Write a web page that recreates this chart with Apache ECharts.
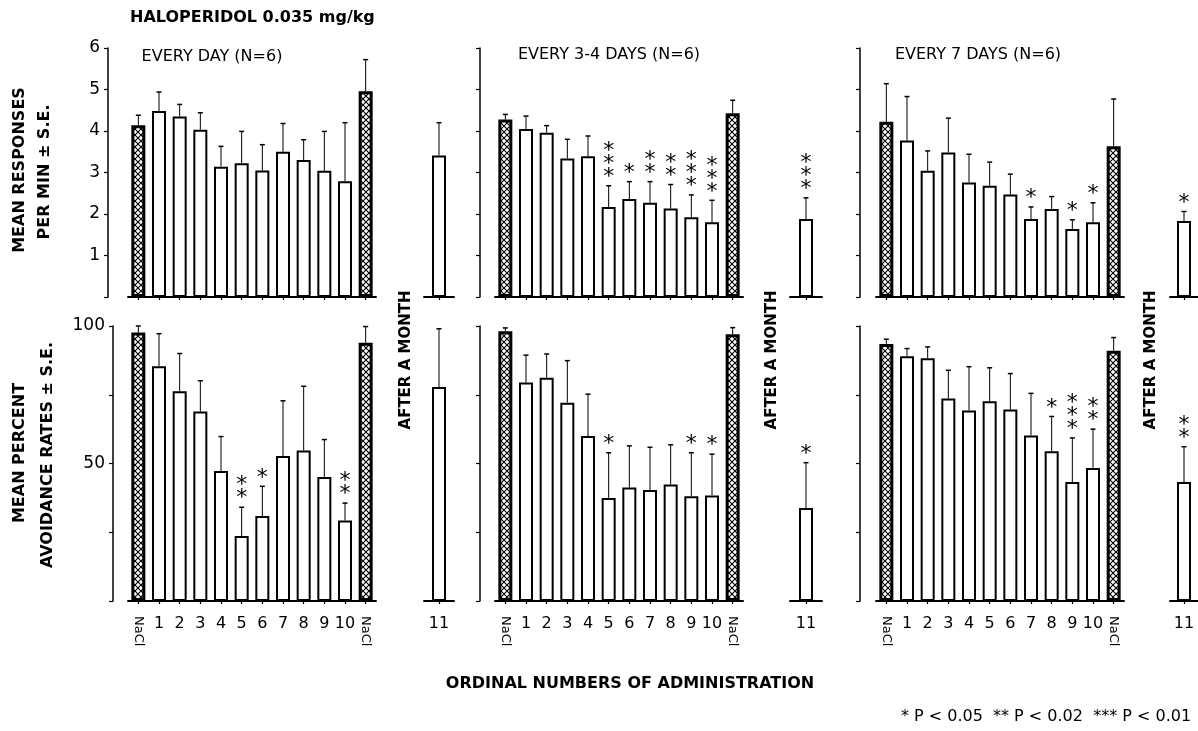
<!DOCTYPE html>
<html><head><meta charset="utf-8">
<script src="https://cdn.jsdelivr.net/npm/echarts@6/dist/echarts.min.js"></script>
<style>html,body{margin:0;padding:0;background:#fff}#c{width:1198px;height:731px}</style>
</head><body><div id="c"></div>
<script>
// ---------- DATA ----------
const categories = ['NaCl','1','2','3','4','5','6','7','8','9','10','NaCl'];
const monthCategories = ['11'];
const respTickLabels = ['1','2','3','4','5','6'];
const avoidTickLabels = ['50','100'];

// Mean responses per min (top row)
const respDaily      = [4.14,4.48,4.35,4.03,3.14,3.22,3.05,3.50,3.30,3.04,2.79,4.96];
const respDailySE    = [0.24,0.46,0.29,0.41,0.49,0.77,0.62,0.68,0.49,0.95,1.41,0.76];
const respDailyStars = [0,0,0,0,0,0,0,0,0,0,0,0];
const respDailyMonth = [3.41], respDailyMonthSE = [0.79], respDailyMonthStars = [0];

const resp34      = [4.28,4.05,3.96,3.34,3.39,2.17,2.36,2.27,2.13,1.92,1.80,4.43];
const resp34SE    = [0.12,0.31,0.17,0.46,0.49,0.51,0.42,0.51,0.58,0.54,0.53,0.31];
const resp34Stars = [0,0,0,0,0,3,1,2,2,3,3,0];
const resp34Month = [1.88], resp34MonthSE = [0.51], resp34MonthStars = [3];

const resp7      = [4.22,3.77,3.04,3.48,2.76,2.68,2.47,1.88,2.12,1.64,1.80,3.63];
const resp7SE    = [0.92,1.06,0.48,0.83,0.68,0.57,0.49,0.29,0.30,0.22,0.47,1.14];
const resp7Stars = [0,0,0,0,0,0,0,1,0,1,1,0];
const resp7Month = [1.83], resp7MonthSE = [0.23], resp7MonthStars = [1];

// Mean percent avoidance rates (bottom row)
const avoidDaily      = [97.6,85.4,76.3,68.9,47.3,23.6,30.9,52.7,54.7,45.1,29.3,93.9];
const avoidDailySE    = [2.4,11.8,13.7,11.2,12.5,10.5,10.8,20.1,23.4,13.6,6.3,5.9];
const avoidDailyStars = [0,0,0,0,0,2,1,0,0,0,2,0];
const avoidDailyMonth = [77.8], avoidDailyMonthSE = [21.2], avoidDailyMonthStars = [0];

const avoid34      = [98.1,79.5,81.2,72.1,60.0,37.5,41.3,40.4,42.4,38.1,38.4,97.0];
const avoid34SE    = [1.2,9.9,8.6,15.3,15.2,16.4,15.1,15.5,14.4,15.8,15.0,2.4];
const avoid34Stars = [0,0,0,0,0,1,0,0,0,1,1,0];
const avoid34Month = [33.8], avoid34MonthSE = [16.5], avoid34MonthStars = [1];

const avoid7      = [93.5,89.0,88.3,73.6,69.3,72.6,69.6,60.2,54.5,43.3,48.4,91.0];
const avoid7SE    = [1.7,2.8,4.1,10.3,15.9,12.2,13.1,15.3,12.6,16.0,14.1,4.8];
const avoid7Stars = [0,0,0,0,0,0,0,0,1,3,2,0];
const avoid7Month = [43.3], avoid7MonthSE = [12.8], avoid7MonthStars = [2];

// ---------- LAYOUT ----------
const FONT = 'DejaVu Sans';
const mainLeft = [128, 495, 876], mainWidth = 248;
const monthLeft = [424, 790, 1170], monthWidth = [30, 32, 28];
const rowTop = [48, 326], rowHeight = [249, 275];
const yOffset = [[20, 15, 16], [15, 15, 16]];

const panels = [
  {row:0,col:0,mean:respDaily,se:respDailySE,stars:respDailyStars,mMean:respDailyMonth,mSe:respDailyMonthSE,mStars:respDailyMonthStars},
  {row:0,col:1,mean:resp34,se:resp34SE,stars:resp34Stars,mMean:resp34Month,mSe:resp34MonthSE,mStars:resp34MonthStars},
  {row:0,col:2,mean:resp7,se:resp7SE,stars:resp7Stars,mMean:resp7Month,mSe:resp7MonthSE,mStars:resp7MonthStars},
  {row:1,col:0,mean:avoidDaily,se:avoidDailySE,stars:avoidDailyStars,mMean:avoidDailyMonth,mSe:avoidDailyMonthSE,mStars:avoidDailyMonthStars},
  {row:1,col:1,mean:avoid34,se:avoid34SE,stars:avoid34Stars,mMean:avoid34Month,mSe:avoid34MonthSE,mStars:avoid34MonthStars},
  {row:1,col:2,mean:avoid7,se:avoid7SE,stars:avoid7Stars,mMean:avoid7Month,mSe:avoid7MonthSE,mStars:avoid7MonthStars}
];

function hatchCanvas() {
  const s = 6;
  const c = document.createElement('canvas'); c.width = s; c.height = s;
  const g = c.getContext('2d');
  g.fillStyle = '#fff'; g.fillRect(0, 0, s, s);
  g.strokeStyle = '#000'; g.lineWidth = 1.1;
  g.beginPath();
  g.moveTo(-1, -1); g.lineTo(s + 1, s + 1);
  g.moveTo(s + 1, -1); g.lineTo(-1, s + 1);
  g.stroke();
  return c;
}
const hatch = { image: hatchCanvas(), repeat: 'repeat' };

function errRender(params, api) {
  const i = api.value(0), m = api.value(1), e = api.value(2);
  const b = api.coord([i, m]), t = api.coord([i, m + e]);
  return { type: 'group', children: [
    { type: 'line', shape: { x1: b[0], y1: b[1], x2: t[0], y2: t[1] }, style: { stroke: '#000', lineWidth: 1 } },
    { type: 'line', shape: { x1: t[0] - 2.5, y1: t[1], x2: t[0] + 2.5, y2: t[1] }, style: { stroke: '#000', lineWidth: 1.5 } }
  ]};
}
function starRender(params, api) {
  const n = api.value(3);
  if (!n) return null;
  const i = api.value(0), m = api.value(1), e = api.value(2);
  const t = api.coord([i, m + e]);
  return { type: 'text', x: t[0], y: t[1] - 2, style: {
    text: new Array(n).fill('*').join('\n'), font: '22px ' + FONT, lineHeight: 13,
    align: 'center', verticalAlign: 'bottom', fill: '#000' } };
}

const grid = [], xAxis = [], yAxis = [], series = [];
panels.forEach(p => {
  const isTop = p.row === 0;
  const ymax = isTop ? 6 : 100, yint = isTop ? 1 : 25;
  const ticks = isTop ? respTickLabels : avoidTickLabels;
  // main grid
  const gi = grid.length;
  grid.push({ left: mainLeft[p.col], width: mainWidth, top: rowTop[p.row], height: rowHeight[p.row] });
  const xi = xAxis.length;
  xAxis.push({ type: 'category', gridIndex: gi, data: categories, position: 'bottom',
    axisLine: { lineStyle: { color: '#000', width: 2 } },
    axisTick: { show: true, alignWithLabel: true, interval: 0, length: 3, lineStyle: { color: '#000', width: 1.2 } },
    axisLabel: { show: !isTop, interval: 0, margin: 15, color: '#000', fontFamily: FONT, fontSize: 16,
      formatter: v => v === 'NaCl' ? '' : v } });
  xAxis.push({ type: 'category', gridIndex: gi, data: categories, position: 'bottom',
    axisLine: { show: false }, axisTick: { show: false },
    axisLabel: { show: !isTop, interval: 0, rotate: -90, margin: 15, color: '#000', fontFamily: FONT, fontSize: 13,
      formatter: v => v === 'NaCl' ? v : '' } });
  const yi = yAxis.length;
  yAxis.push({ type: 'value', gridIndex: gi, min: 0, max: ymax, interval: yint, offset: yOffset[p.row][p.col],
    splitLine: { show: false },
    axisLine: { show: true, lineStyle: { color: '#000', width: 1.5 } },
    axisTick: { show: true, length: 4, lineStyle: { color: '#000', width: 1.2 } },
    axisLabel: { show: p.col === 0, color: '#000', fontFamily: FONT, fontSize: 17, margin: 8,
      formatter: v => ticks.includes(String(v)) ? String(v) : '' } });
  series.push({ type: 'bar', xAxisIndex: xi, yAxisIndex: yi, barWidth: 14, silent: true,
    data: p.mean.map((v, k) => categories[k] === 'NaCl'
      ? { value: v, itemStyle: { color: hatch, borderColor: '#000', borderWidth: 3 } }
      : { value: v }),
    itemStyle: { color: '#fff', borderColor: '#000', borderWidth: 2 } });
  const ed = p.mean.map((v, k) => [k, v, p.se[k], p.stars[k]]);
  series.push({ type: 'custom', xAxisIndex: xi, yAxisIndex: yi, renderItem: errRender, data: ed, z: 3, silent: true });
  series.push({ type: 'custom', xAxisIndex: xi, yAxisIndex: yi, renderItem: starRender, data: ed, z: 4, silent: true });

  // month grid
  const gm = grid.length;
  grid.push({ left: monthLeft[p.col], width: monthWidth[p.col], top: rowTop[p.row], height: rowHeight[p.row] });
  const xm = xAxis.length;
  xAxis.push({ type: 'category', gridIndex: gm, data: monthCategories, position: 'bottom',
    axisLine: { lineStyle: { color: '#000', width: 2 } },
    axisTick: { show: true, alignWithLabel: true, length: 3, lineStyle: { color: '#000', width: 1.2 } },
    axisLabel: { show: !isTop, margin: 15, color: '#000', fontFamily: FONT, fontSize: 16 } });
  const ym = yAxis.length;
  yAxis.push({ type: 'value', gridIndex: gm, min: 0, max: ymax, interval: yint, show: false, splitLine: { show: false } });
  series.push({ type: 'bar', xAxisIndex: xm, yAxisIndex: ym, barWidth: 14, silent: true, data: p.mMean,
    itemStyle: { color: '#fff', borderColor: '#000', borderWidth: 2 } });
  const md = p.mMean.map((v, k) => [k, v, p.mSe[k], p.mStars[k]]);
  series.push({ type: 'custom', xAxisIndex: xm, yAxisIndex: ym, renderItem: errRender, data: md, z: 3, silent: true });
  series.push({ type: 'custom', xAxisIndex: xm, yAxisIndex: ym, renderItem: starRender, data: md, z: 4, silent: true });
});

function txt(x, y, text, font, opts) {
  const o = Object.assign({ align: 'center', rotation: 0 }, opts || {});
  return { type: 'text', x: x, y: y, rotation: o.rotation, silent: true,
    style: { text: text, font: font, fill: '#000', align: o.align, verticalAlign: 'middle' } };
}
const R = Math.PI / 2;
const graphic = [
  txt(130, 18, 'HALOPERIDOL 0.035 mg/kg', 'bold 16px ' + FONT, { align: 'left' }),
  txt(212, 57, 'EVERY DAY (N=6)', '16px ' + FONT),
  txt(609, 55, 'EVERY 3-4 DAYS (N=6)', '16px ' + FONT),
  txt(978, 55, 'EVERY 7 DAYS (N=6)', '16px ' + FONT),
  txt(20, 170, 'MEAN RESPONSES', 'bold 16px ' + FONT, { rotation: R }),
  txt(45, 172, 'PER MIN \u00B1 S.E.', 'bold 16px ' + FONT, { rotation: R }),
  txt(20, 453, 'MEAN PERCENT', 'bold 16px ' + FONT, { rotation: R }),
  txt(48, 455, 'AVOIDANCE RATES \u00B1 S.E.', 'bold 16px ' + FONT, { rotation: R }),
  txt(406, 360, 'AFTER A MONTH', 'bold 15px ' + FONT, { rotation: R }),
  txt(772, 360, 'AFTER A MONTH', 'bold 15px ' + FONT, { rotation: R }),
  txt(1151, 360, 'AFTER A MONTH', 'bold 15px ' + FONT, { rotation: R }),
  txt(630, 684, 'ORDINAL NUMBERS OF ADMINISTRATION', 'bold 16px ' + FONT),
  txt(1046, 717, '* P < 0.05  ** P < 0.02  *** P < 0.01', '16px ' + FONT)
];

const chart = echarts.init(document.getElementById('c'), null, { renderer: 'canvas' });
chart.setOption({ animation: false, backgroundColor: '#fff', grid, xAxis, yAxis, series, graphic });
</script>
</body></html>
